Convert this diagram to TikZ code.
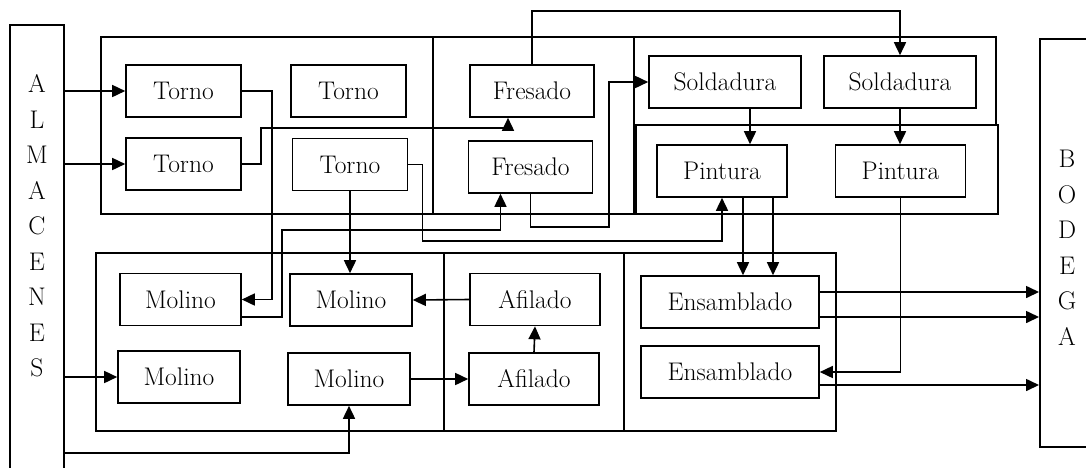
\documentclass[tikz,border=0pt]{standalone}
\usepackage{tikz}
\usetikzlibrary{arrows.meta}

\begin{document}
\begin{tikzpicture}[x=1pt,y=-1pt]
        \tikzstyle{proc}=[draw, line width=1.6pt, minimum height=52pt, inner sep=0pt, font=\fontsize{25.5}{28}\selectfont]
        \tikzstyle{flow}=[line width=1.6pt, -{Triangle[length=13pt,width=12pt]}]
        \tikzstyle{zone}=[line width=1.6pt]
        \tikzstyle{vert}=[align=center, inner sep=0pt, font=\fontsize{25.5}{35.5}\selectfont]

        \useasboundingbox (0,0) rectangle (1086,467);
        \clip (0,0) rectangle (1086,467);

        % almacenes y bodega
        \node[draw, line width=1.6pt, minimum width=54pt, minimum height=480pt, anchor=north west] (alm) at (9,24) {};
        \node[vert] (almtxt) at (37,226) {A\\L\\M\\A\\C\\E\\N\\E\\S};
        \node[draw, line width=1.6pt, minimum width=70pt, minimum height=408pt, anchor=north west] (bod) at (1039,38) {};
        \node[vert] (bodtxt) at (1067,248) {B\\O\\D\\E\\G\\A};

        % areas
        \draw[zone] (101,37) rectangle (433,214);
        \draw[zone] (433,37) rectangle (634,214);
        \draw[zone] (634,37) rectangle (996,125);
        \draw[zone] (636,125) rectangle (998,214);
        \draw[zone] (96,253) rectangle (444,431);
        \draw[zone] (444,253) rectangle (624,431);
        \draw[zone] (624,253) rectangle (836,431);

        \node[proc, minimum width=115pt] (t1) at (183.5,91) {Torno};
        \node[proc, minimum width=115pt] (t2) at (348.5,91) {Torno};
        \node[proc, minimum width=115pt] (t3) at (183.5,164) {Torno};
        \node[proc, minimum width=115pt] (t4) at (350,164.5) {Torno};

        \node[proc, minimum width=124pt] (f1) at (532,91) {Fresado};
        \node[proc, minimum width=124pt] (f2) at (530.5,167) {Fresado};

        \node[proc, minimum width=152pt] (s1) at (725,82) {Soldadura};
        \node[proc, minimum width=152pt] (s2) at (900,82) {Soldadura};
        \node[proc, minimum width=130pt] (p1) at (722,171) {Pintura};
        \node[proc, minimum width=130pt] (p2) at (900.5,171) {Pintura};

        \node[proc, minimum width=121pt] (m1) at (180.5,299.5) {Molino};
        \node[proc, minimum width=122pt] (m2) at (351,300) {Molino};
        \node[proc, minimum width=122pt] (m3) at (179,377) {Molino};
        \node[proc, minimum width=122pt] (m4) at (349,379) {Molino};

        \node[proc, minimum width=130pt] (a1) at (535,299.5) {Afilado};
        \node[proc, minimum width=130pt] (a2) at (534,379) {Afilado};

        \node[proc, minimum width=178pt] (e1) at (730,302) {Ensamblado};
        \node[proc, minimum width=178pt] (e2) at (730,372) {Ensamblado};

        % entradas y salidas desplazadas
        \coordinate (f1in) at ([xshift=-24pt]f1.south);
        \coordinate (f2in) at ([xshift=-30pt]f2.south);
        \coordinate (m1out) at ([yshift=-17.5pt]m1.east);
        \coordinate (s1out) at ([xshift=25pt]s1.south);
        \coordinate (p1a) at ([xshift=21pt]p1.south);
        \coordinate (p1b) at ([xshift=51pt]p1.south);
        \coordinate (e1a) at ([yshift=10pt]e1.east);
        \coordinate (e1b) at ([yshift=-15pt]e1.east);
        \coordinate (e2a) at ([yshift=-13pt]e2.east);

        \draw[flow] (t1.west -| alm.east) -- (t1.west);
        \draw[flow] (t3.west -| alm.east) -- (t3.west);
        \draw[flow] (m3.west -| alm.east) -- (m3.west);
        \draw[flow] (alm.east |- 0,453) -| (m4.south);

        \draw[flow] (t1.east) -- ++(30,0) |- (m1.east);
        \draw[flow] (t3.east) -- ++(19,0) |- (f1in |- 0,128) -- (f1in);
        \draw[flow] (t4.east) -- ++(14,0) |- (p1.south |- 0,241) -- (p1.south);
        \draw[flow] (t4.south) -- (t4.south |- m2.north);
        \draw[flow] (m1out) -- ++(40,0) |- (f2in |- 0,230) -- (f2in);

        \draw[flow] (f1.north) |- (s2.north |- 0,11) -- (s2.north);
        \draw[flow] (f2.south) |- (609,227) |- (s1.west);
        \draw[flow] (s1out) -- (s1out |- p1.north);
        \draw[flow] (s2.south) -- (s2.south |- p2.north);

        \draw[flow] (p1a) -- (p1a |- e1.north);
        \draw[flow] (p1b) -- (p1b |- e1.north);
        \draw[flow] (p2.south) |- (e2.east);

        \draw[flow] (a1.west) -- (m2.east);
        \draw[flow] (a2.north) -- (a1.south);
        \draw[flow] (m4.east) -- (a2.west);

        \draw[flow] (e1a) -- (e1a -| bod.west);
        \draw[flow] (e1b) -- (e1b -| bod.west);
        \draw[flow] (e2a) -- (e2a -| bod.west);
\end{tikzpicture}
\end{document}
